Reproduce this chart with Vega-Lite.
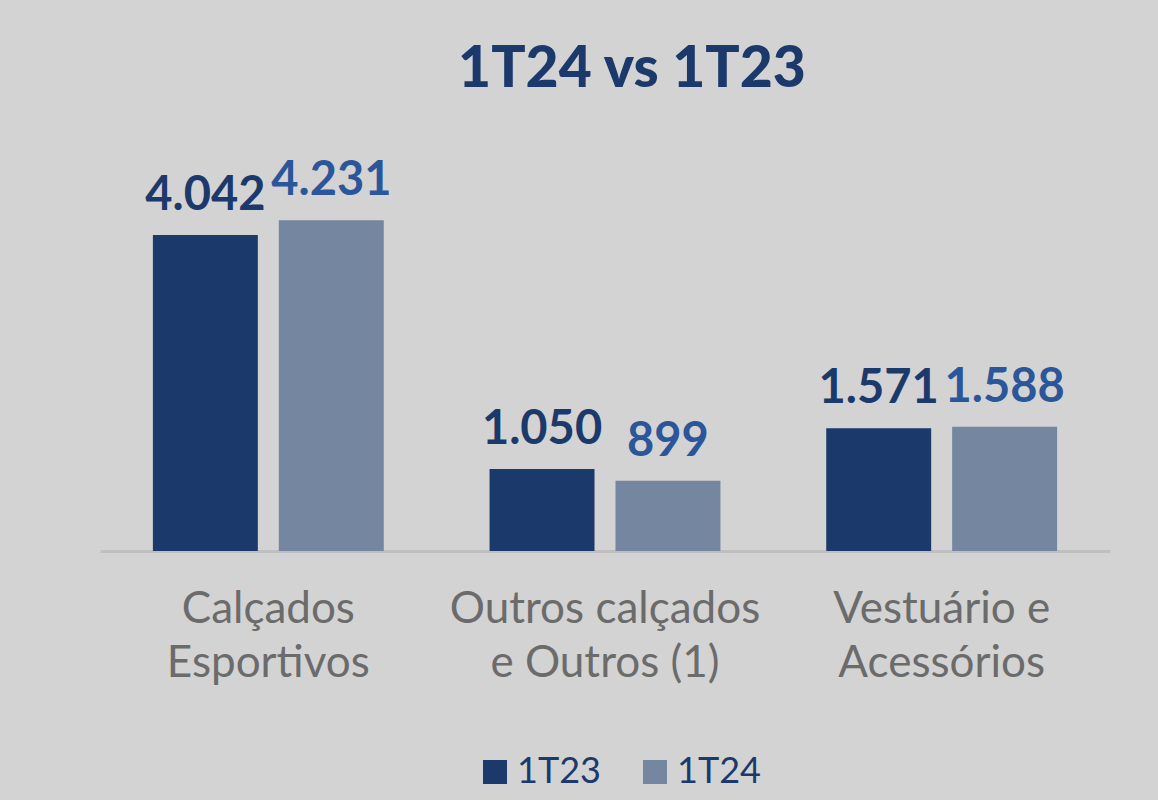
{
  "$schema": "https://vega.github.io/schema/vega-lite/v6.json",
  "autosize": "none",
  "width": 1010,
  "height": 391,
  "padding": {"left": 100, "top": 160, "right": 48, "bottom": 249},
  "background": "#d3d3d3",
  "title": {
    "text": "1T24 vs 1T23",
    "fontSize": 57,
    "font": "Lato",
    "fontWeight": 900,
    "color": "#1b3a6b",
    "anchor": "middle",
    "dx": 27,
    "offset": 58
  },
  "data": {
    "values": [
      {"categoria": "Calçados Esportivos", "periodo": "1T23", "valor": 4042},
      {"categoria": "Calçados Esportivos", "periodo": "1T24", "valor": 4231},
      {"categoria": "Outros calçados e Outros (1)", "periodo": "1T23", "valor": 1050},
      {"categoria": "Outros calçados e Outros (1)", "periodo": "1T24", "valor": 899},
      {"categoria": "Vestuário e Acessórios", "periodo": "1T23", "valor": 1571},
      {"categoria": "Vestuário e Acessórios", "periodo": "1T24", "valor": 1588}
    ]
  },
  "encoding": {
    "x": {
      "field": "categoria",
      "type": "nominal",
      "sort": null,
      "scale": {"paddingInner": 0, "paddingOuter": 0},
      "axis": {
        "title": null,
        "labelAngle": 0,
        "ticks": false,
        "domainColor": "#bfbfbf",
        "domainWidth": 3,
        "labelFont": "Lato",
        "labelFontSize": 44,
        "labelColor": "#6b6b6b",
        "labelPadding": 36,
        "labelLineHeight": 54,
        "labelLimit": 0,
        "labelExpr": "datum.label == 'Calçados Esportivos' ? ['Calçados', 'Esportivos'] : datum.label == 'Outros calçados e Outros (1)' ? ['Outros calçados', 'e Outros (1)'] : ['Vestuário e', 'Acessórios']"
      }
    },
    "xOffset": {
      "field": "periodo",
      "type": "nominal",
      "scale": {"paddingInner": 0.1667, "paddingOuter": 0.42}
    },
    "y": {
      "field": "valor",
      "type": "quantitative",
      "scale": {"domain": [0, 5000]},
      "axis": null
    }
  },
  "layer": [
    {
      "mark": {"type": "bar"},
      "encoding": {
        "color": {
          "field": "periodo",
          "type": "nominal",
          "scale": {"domain": ["1T23", "1T24"], "range": ["#1b3a6b", "#7586a0"]},
          "legend": {
            "orient": "none",
            "legendX": 377,
            "legendY": 594,
            "direction": "horizontal",
            "title": null,
            "symbolType": "square",
            "symbolSize": 576,
            "symbolStrokeWidth": 0,
            "labelFontSize": 36,
            "labelFont": "Lato",
            "labelColor": "#1b3a6b",
            "columnPadding": 36
          }
        }
      }
    },
    {
      "mark": {
        "type": "text",
        "baseline": "alphabetic",
        "dy": -25,
        "fontSize": 47,
        "font": "Lato",
        "fontWeight": "bold"
      },
      "encoding": {
        "text": {"field": "valor", "type": "quantitative", "format": ",d"},
        "color": {
          "condition": {"test": "datum.periodo === '1T23'", "value": "#1b3a6b"},
          "value": "#2b579a"
        }
      }
    }
  ],
  "config": {
    "view": {"stroke": null},
    "locale": {
      "number": {"decimal": ",", "thousands": ".", "grouping": [3], "currency": ["R$ ", ""]}
    }
  }
}
